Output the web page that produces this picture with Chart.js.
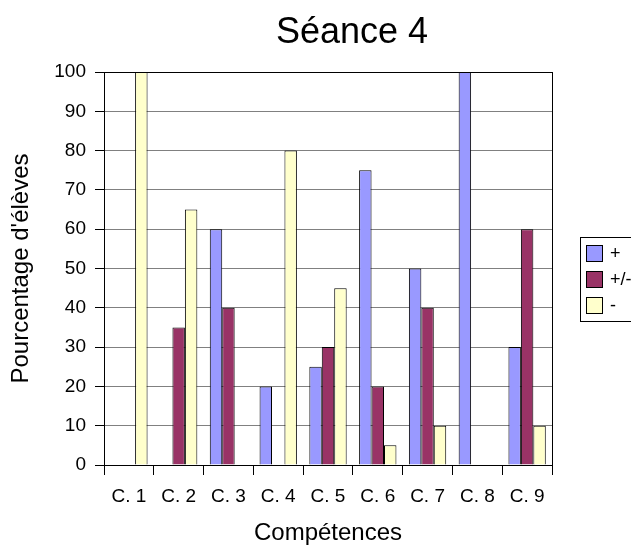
<!DOCTYPE html>
<html>
<head>
<meta charset="utf-8">
<script src="https://cdn.jsdelivr.net/npm/chart.js@4/dist/chart.umd.min.js"></script>
<style>
  html, body { margin: 0; padding: 0; background: #fff; }
  #wrap { width: 631px; height: 549px; }
</style>
</head>
<body>
<div id="wrap"><canvas id="chart" width="631" height="549"></canvas></div>
<script>
const categories = ['C. 1', 'C. 2', 'C. 3', 'C. 4', 'C. 5', 'C. 6', 'C. 7', 'C. 8', 'C. 9'];
const plus = [0, 0, 60, 20, 25, 75, 50, 100, 30];
const plusMinus = [0, 35, 40, 0, 30, 20, 40, 0, 60];
const minus = [100, 65, 0, 80, 45, 5, 10, 0, 10];
const seriesLabels = ['+', '+/-', '-'];
const seriesColors = ['#9999ff', '#993366', '#ffffcc'];

const FONT = '"Liberation Sans", Arial, sans-serif';

// title and framed legend drawn by hand, the old spreadsheet look
const extras = {
    id: 'extras',
    afterDraw(chart) {
        const ctx = chart.ctx;
        const area = chart.chartArea;
        ctx.save();

        // frame round the plot
        ctx.strokeStyle = '#000';
        ctx.lineWidth = 1;
        ctx.strokeRect(area.left + 0.5, area.top + 0.5, area.right - area.left, area.bottom - area.top);

        // title
        ctx.fillStyle = '#000';
        ctx.font = '36px ' + FONT;
        ctx.textAlign = 'center';
        ctx.textBaseline = 'alphabetic';
        ctx.fillText('Séance 4', (area.left + area.right) / 2 + 24, 43);

        // legend
        const lx = area.right + 28, ly = area.top + 165;
        ctx.strokeRect(lx + 0.5, ly + 0.5, 70, 84);
        ctx.font = '18px ' + FONT;
        ctx.textAlign = 'left';
        ctx.textBaseline = 'middle';
        chart.data.datasets.forEach((ds, i) => {
            const y = ly + 8 + i * 26;
            ctx.fillStyle = ds.backgroundColor;
            ctx.fillRect(lx + 6, y, 17, 17);
            ctx.strokeStyle = '#000';
            ctx.strokeRect(lx + 6.5, y + 0.5, 16, 16);
            ctx.fillStyle = '#000';
            ctx.fillText(ds.label, lx + 30, y + 9);
        });
        ctx.restore();
    }
};

new Chart(document.getElementById('chart'), {
    type: 'bar',
    data: {
        labels: categories,
        datasets: [plus, plusMinus, minus].map((values, i) => ({
            label: seriesLabels[i],
            data: values,
            backgroundColor: seriesColors[i],
            borderColor: '#000',
            borderWidth: 1,
            categoryPercentage: 0.75,
            barPercentage: 1.0,
        })),
    },
    options: {
        responsive: false,
        animation: false,
        layout: {
            padding: { top: 72, right: 79, bottom: 0, left: 0 },
        },
        plugins: {
            legend: { display: false },
            title: { display: false },
            tooltip: { enabled: false },
        },
        scales: {
            x: {
                afterFit: (scale) => { scale.height = 84; },
                grid: {
                    offset: true,
                    drawOnChartArea: false,
                    drawTicks: true,
                    tickLength: 10,
                    color: '#000',
                },
                border: { color: '#000', width: 1 },
                ticks: {
                    color: '#000',
                    padding: 10,
                    font: { family: FONT, size: 19 },
                },
                title: {
                    display: true,
                    text: 'Compétences',
                    color: '#000',
                    padding: { top: 0, bottom: 1 },
                    font: { family: FONT, size: 24 },
                },
            },
            y: {
                min: 0,
                max: 100,
                afterFit: (scale) => { scale.width = 104; },
                grid: {
                    color: '#808080',
                    tickColor: '#000',
                    tickLength: 9,
                },
                border: { color: '#000', width: 1 },
                ticks: {
                    stepSize: 10,
                    color: '#000',
                    padding: 9,
                    font: { family: FONT, size: 19 },
                },
                title: {
                    display: true,
                    text: "Pourcentage d'élèves",
                    color: '#000',
                    padding: { top: 7, bottom: 0 },
                    font: { family: FONT, size: 24 },
                },
            },
        },
    },
    plugins: [extras],
});
</script>
</body>
</html>
